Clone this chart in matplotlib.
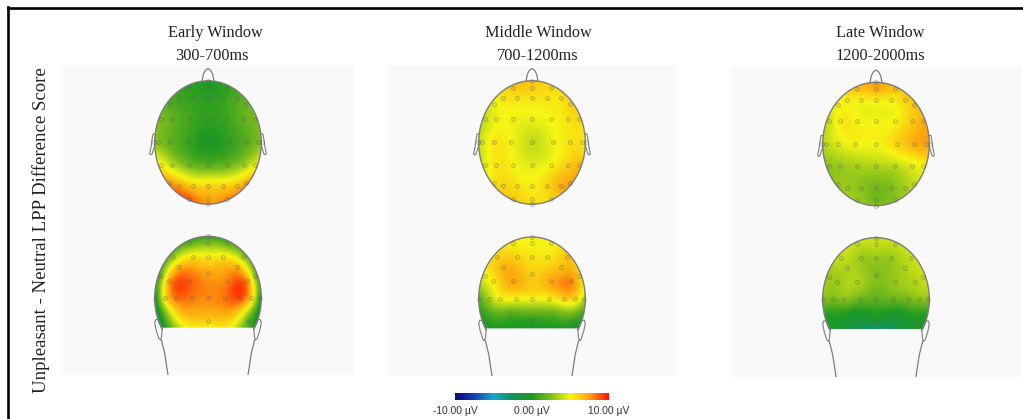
import matplotlib
matplotlib.use("Agg")
import matplotlib.pyplot as plt
import numpy as np
from matplotlib.colors import LinearSegmentedColormap
from matplotlib.lines import Line2D
from matplotlib.patches import Ellipse, Polygon

W, H = 1023, 419

titles = ["Early Window", "Middle Window", "Late Window"]
windows = ["300-700ms", "700-1200ms", "1200-2000ms"]
ylabel = "Unpleasant - Neutral LPP Difference Score"
cbar_ticks = [-10, 0, 10]
cbar_labels = ["-10.00 \u00b5V", "0.00 \u00b5V", "10.00 \u00b5V"]

# electrode sites in head units (radius 1)
top_rows = [
    (1.0, [0.0]),
    (0.89, [-0.356, 0.0, 0.356]),
    (0.63, [-0.719]),
    (0.714, [-0.544, -0.281, 0.0, 0.281, 0.544]),
    (0.63, [0.719]),
    (0.373, [-0.875, -0.669, -0.356, 0.0, 0.356, 0.669, 0.888]),
    (0.0, [-1.019, -0.938, -0.706, -0.394, 0.0, 0.388, 0.706, 0.938, 1.019]),
    (-0.357, [-0.875, -0.669, -0.356, 0.0, 0.356, 0.669, 0.888]),
    (-0.65, [-0.719]),
    (-0.708, [-0.544, -0.281, 0.0, 0.281, 0.544]),
    (-0.65, [0.719]),
    (-0.908, [-0.356, 0.0, 0.356]),
    (-1.0, [0.0]),
]
back_rows = [
    (1.0, [0.0]),
    (0.897, [-0.356, 0.0, 0.356]),
    (0.67, [-0.656, -0.281, 0.0, 0.281, 0.656]),
    (0.508, [-0.544, 0.544]),
    (0.4, [0.0]),
    (0.362, [-0.888, 0.888]),
    (0.281, [-0.731, -0.356, 0.356, 0.731]),
    (0.0, [-1.0, -0.806, -0.594, -0.306, 0.0, 0.313, 0.594, 0.812, 0.981]),
    (-0.368, [0.0, 0.75]),
]
# sites under the cut edge of the rear view, not drawn as dots
back_hidden_rows = [
    (-0.249, [-0.906, -0.406, 0.406, 0.906]),
    (-0.481, [-0.844, -0.406, 0.0, 0.406, 0.844]),
]

# uV per site, same order as the rows above
early_top = [0.2, 0.4, 0, 0.5, 1.2, 0.7, 0.5, 0.3, 0.6, 1.2, 1.8,
             2.3, 1.7, 0.9, 0.4, 0.8, 1.7, 2.3,
             3, 2.5, 1.7, 0.7, -0.1, 0.5, 1.4, 2.4, 3,
             5, 3.5, 1.9, 1.3, 1.7, 3, 4.5,
             7.3, 7.3, 6, 6, 6, 6.5, 7, 8.6, 7.3, 7.8, 7.3]
early_back = [0.5, 1.5, 2.5, 1.5, 3, 5.5, 5.2, 5.5, 3, 6.8, 6.8, 7.3, 2, 2,
              7.5, 8.6, 7.8, 7.8, -0.5, 6, 8.2, 8, 7.8, 8.2, 9, 6.2, 0, 6.2, 1.5,
              0, 7, 7, 0, -0.5, 5, 5, 5, 0]
middle_top = [6.3, 6.3, 6.3, 5.8, 4.8, 5.5, 5.5, 5.5, 5.5, 5.5, 6,
              4, 4.8, 4.8, 4.8, 5, 5.5, 6,
              3.6, 4.4, 5.5, 5, 3.8, 4.8, 5.5, 5.5, 4.8,
              4.6, 5.5, 5, 4.5, 5, 6, 6.8,
              5.5, 6, 5.5, 5.2, 6, 7.3, 7.3, 6.2, 5.5, 5.8, 5.8]
middle_back = [5, 5.2, 5, 5, 6, 6, 5.5, 5.5, 6.5, 7, 6.5, 6, 5, 6,
               5, 7.3, 7.3, 8, 1.5, 3.5, 5, 5, 5, 5, 6, 6, 3.5, 0, 0.5,
               0.5, 1, 1.5, 1, -0.3, -0.2, 0, -0.2, -0.3]
late_top = [7.5, 6.5, 7.2, 6.5, 5, 5.2, 5, 5.2, 5.2, 6, 6.5,
            4, 5.5, 5, 5, 5, 6.3, 7,
            3.5, 3.8, 4.5, 5, 5, 6, 7, 7.5, 7,
            2.8, 3, 3.3, 3.5, 3.8, 4.5, 5,
            3, 3, 2.7, 2.2, 2.5, 3.2, 4, 3, 2, 2.7, 2.7]
late_back = [4, 4, 4, 4, 4, 3, 3, 3, 4, 3.5, 3.5, 2.5, 3, 4,
             3, 3.5, 3, 3.5, 2.8, 2.3, 2.8, 2, 1.6, 2, 2.3, 2.8, 2.8, -0.9, -0.2,
             0, -0.8, -0.8, 0, -0.2, -1.5, -3.5, -1.5, -0.2]
top_values = [early_top, middle_top, late_top]
back_values = [early_back, middle_back, late_back]

# panel box and head centres in picture pixels
panel_boxes = [(63, 354, 65, 375), (387, 677, 66, 376), (731, 1021, 67, 377)]
head_x = [208, 532, 876]
top_y = [142.5, 142.5, 144]
back_y = [298, 298.7, 299.3]
title_x = [215, 538, 880]
window_x = [212, 538, 880]
RX, RY = 53.3, 61.7
CUT = -0.481
OUTLINE = "#7d7d7d"

cmap = LinearSegmentedColormap.from_list("besa", [
    (0.0, "#0a0a78"), (0.12, "#1240b0"), (0.25, "#18a4cc"), (0.37, "#12955a"),
    (0.5, "#1f9a22"), (0.62, "#7cbc1c"), (0.75, "#f6f614"), (0.87, "#fda50e"),
    (1.0, "#fc1206"),
])

top_ear_x = np.array([1.0, 1.03, 1.05, 1.07, 1.095, 1.08, 1.05, 1.02, 1.0])
top_ear_y = np.array([0.135, 0.14, 0.05, -0.08, -0.18, -0.2, -0.19, -0.1, -0.05])
back_ear_x = np.array([0.86, 0.88, 0.94, 0.98, 1.0, 0.97, 0.92, 0.89, 0.87, 0.86])
back_ear_y = np.array([-0.5, -0.45, -0.35, -0.35, -0.4, -0.53, -0.66, -0.68, -0.62, -0.5])
neck_x = np.array([0.875, 0.8125, 0.75])
neck_y = np.array([-0.68, -0.9, -1.25])


def sites(rows):
    return np.array([(x, y) for y, xs in rows for x in xs])


def spline_field(xy, values, gx, gy):
    # thin plate spline through the electrode values
    def kernel(r):
        return np.where(r > 0, r ** 2 * np.log(r + 1e-12), 0.0)

    n = len(xy)
    dist = np.hypot(*(xy[:, None, :] - xy[None, :, :]).transpose(2, 0, 1))
    poly = np.column_stack([np.ones(n), xy])
    lhs = np.block([[kernel(dist) + 0.01 * np.eye(n), poly],
                    [poly.T, np.zeros((3, 3))]])
    rhs = np.concatenate([values, np.zeros(3)])
    coef = np.linalg.solve(lhs, rhs)
    r = np.hypot(gx[..., None] - xy[:, 0], gy[..., None] - xy[:, 1])
    return kernel(r) @ coef[:n] + coef[n] + coef[n + 1] * gx + coef[n + 2] * gy


def dots(ax, xy, dy):
    ax.plot(xy[:, 0], xy[:, 1] + dy, "o", ms=2.9, mfc=(0.4, 0.4, 0.4, 0.12),
            mec=(0.35, 0.35, 0.35, 0.4), mew=0.5, zorder=5, clip_on=False)


fig = plt.figure(figsize=(W / 100, H / 100), dpi=100, facecolor="white")
serif = {"family": "Liberation Serif", "color": "#222222"}

for i, box in enumerate(panel_boxes):
    left, right, top, bottom = box
    ax = fig.add_axes([left / W, 1 - bottom / H, (right - left) / W, (bottom - top) / H])
    ax.set_facecolor("#f9f9f9")
    ax.set_xlim((left - head_x[i]) / RX, (right - head_x[i]) / RX)
    ax.set_ylim((top_y[i] - bottom) / RY, (top_y[i] - top) / RY)
    ax.set_xticks([])
    ax.set_yticks([])
    for s in ax.spines.values():
        s.set_visible(False)

    gy, gx = np.mgrid[-1.02:1.02:260j, -1.02:1.02:260j]
    back_dy = (top_y[i] - back_y[i]) / RY

    # view from above
    xy = sites(top_rows)
    field = spline_field(xy, np.array(top_values[i], float), gx, gy)
    im = ax.imshow(field, extent=(-1.02, 1.02, -1.02, 1.02), origin="lower", cmap=cmap,
                   vmin=-10, vmax=10, interpolation="bilinear", aspect="auto", zorder=2)
    im.set_clip_path(Ellipse((0, 0), 2, 2, transform=ax.transData))
    ax.add_patch(Ellipse((0, 0), 2, 2, fill=False, ec=OUTLINE, lw=1.0, zorder=4))
    nose_x = np.array([-0.11, -0.09, -0.05, 0.0, 0.05, 0.09, 0.11])
    nose_y = np.array([1.0, 1.1, 1.17, 1.2, 1.17, 1.1, 1.0])
    ax.plot(nose_x, nose_y, color=OUTLINE, lw=0.9, zorder=4)
    for side in (-1, 1):
        ax.plot(side * top_ear_x, top_ear_y, color=OUTLINE, lw=0.8, zorder=4)
    dots(ax, xy, 0)

    # view from behind, cut flat at the neck
    xy_back = sites(back_rows + back_hidden_rows)
    field = spline_field(xy_back, np.array(back_values[i], float), gx, gy)
    im = ax.imshow(field, extent=(-1.02, 1.02, -1.02 + back_dy, 1.02 + back_dy), origin="lower",
                   cmap=cmap, vmin=-10, vmax=10, interpolation="bilinear", aspect="auto", zorder=2)
    ang = np.linspace(np.arcsin(CUT), np.pi - np.arcsin(CUT), 200)
    outline = np.column_stack([np.cos(ang), np.sin(ang) + back_dy])
    im.set_clip_path(Polygon(outline, closed=True, transform=ax.transData))
    ax.plot(outline[:, 0], outline[:, 1], color=OUTLINE, lw=1.0, zorder=4)
    for side in (-1, 1):
        ax.plot(side * back_ear_x, back_ear_y + back_dy, color=OUTLINE, lw=0.8, zorder=4)
        ax.plot(side * neck_x, neck_y + back_dy, color=OUTLINE, lw=0.9, zorder=4)
    dots(ax, sites(back_rows), back_dy)

    fig.text(title_x[i] / W, 1 - 33 / H, titles[i], ha="center", va="center", fontsize=11.7, **serif)
    fig.text(window_x[i] / W, 1 - 55.5 / H, windows[i], ha="center", va="center", fontsize=11.7, **serif)

fig.text(41 / W, 1 - 230 / H, ylabel, rotation=90, ha="center", va="center", fontsize=13.5, **serif)

# colour scale
cax = fig.add_axes([455 / W, 1 - 400 / H, 154 / W, 7 / H])
cb = fig.colorbar(plt.cm.ScalarMappable(plt.Normalize(-10, 10), cmap), cax=cax,
                  orientation="horizontal", ticks=cbar_ticks)
cb.set_ticklabels(cbar_labels, fontsize=7.4, family="Liberation Sans", color="#333333")
cb.ax.tick_params(length=0, pad=4)
cb.outline.set_visible(False)

# frame, only top and left are in the crop
fig.add_artist(Line2D([7.5 / W, 1], [1 - 8 / H, 1 - 8 / H], color="black", lw=1.9))
fig.add_artist(Line2D([8 / W, 8 / W], [0, 1 - 7 / H], color="black", lw=1.9))

fig.savefig("out.png", dpi=100)
